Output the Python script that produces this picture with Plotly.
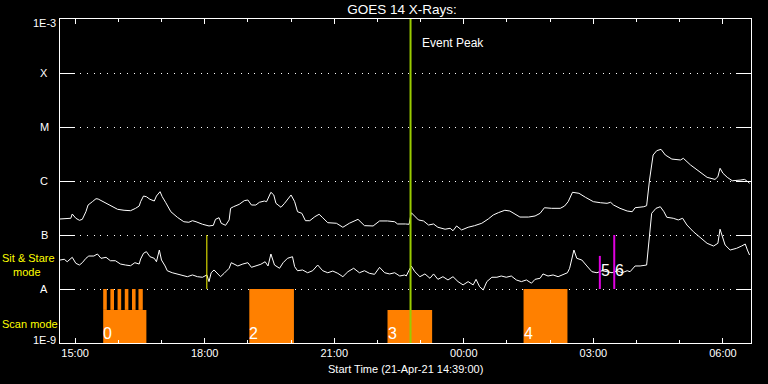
import math
import pandas as pd
import plotly.graph_objects as go

START = pd.Timestamp("2021-04-21 14:39:00")
END = START + pd.Timedelta(hours=16)

# GOES long channel (1-8 A): minutes after start, flux W/m^2
long_min = [0, 10, 15, 17, 22, 27, 31, 36, 39, 45, 50, 53, 61, 70, 80, 89, 98, 105, 110, 112,
            116, 120, 125, 131, 134, 139, 142, 147, 154, 163, 172, 179, 184, 189, 198, 207, 213, 216, 221, 224,
            230, 235, 237, 241, 249, 256, 261, 266, 272, 277, 284, 287, 293, 297, 300, 307, 312, 321, 326, 330,
            336, 341, 347, 354, 360, 365, 372, 384, 393, 402, 414, 423, 435, 444, 455, 465, 469, 480, 485, 488,
            493, 498, 505, 512, 519, 525, 535, 542, 546, 551, 558, 567, 576, 586, 595, 602, 609, 618, 625, 632,
            639, 651, 660, 667, 673, 683, 695, 701, 706, 712, 718, 721, 730, 741, 751, 760, 765, 769, 778, 788,
            795, 799, 811, 815, 819, 824, 829, 835, 841, 850, 862, 866, 876, 887, 899, 910, 914, 917, 921, 927,
            934, 945, 951, 954, 958]
long_flux = [1.98e-7, 1.98e-7, 2.04e-7, 2.45e-7, 2.04e-7, 1.87e-7, 1.95e-7, 2.70e-7, 3.59e-7, 4.14e-7,
             4.70e-7, 4.64e-7, 4.08e-7, 3.55e-7, 2.99e-7, 2.87e-7, 2.82e-7, 3.12e-7, 3.44e-7, 4.14e-7,
             5.27e-7, 5.12e-7, 4.58e-7, 4.26e-7, 5.27e-7, 6.34e-7, 5.12e-7, 3.96e-7, 2.70e-7, 2.13e-7,
             1.76e-7, 1.72e-7, 1.84e-7, 1.76e-7, 1.58e-7, 1.47e-7, 1.51e-7, 1.95e-7, 2.09e-7, 1.65e-7,
             1.51e-7, 1.90e-7, 3.12e-7, 3.34e-7, 3.70e-7, 4.32e-7, 4.45e-7, 3.59e-7, 3.59e-7, 4.03e-7,
             4.26e-7, 4.14e-7, 6.18e-7, 5.51e-7, 3.86e-7, 3.26e-7, 3.86e-7, 5.51e-7, 4.14e-7, 2.70e-7,
             2.52e-7, 1.84e-7, 1.84e-7, 2.18e-7, 2.42e-7, 2.09e-7, 1.69e-7, 1.65e-7, 1.39e-7, 1.65e-7,
             1.95e-7, 1.49e-7, 1.47e-7, 1.82e-7, 1.82e-7, 1.76e-7, 1.60e-7, 1.60e-7, 1.58e-7, 2.59e-7,
             2.18e-7, 1.90e-7, 1.82e-7, 1.53e-7, 1.60e-7, 1.39e-7, 1.28e-7, 1.33e-7, 1.20e-7, 1.47e-7,
             1.24e-7, 1.39e-7, 1.49e-7, 1.65e-7, 1.98e-7, 2.35e-7, 2.59e-7, 2.87e-7, 2.78e-7, 2.45e-7,
             2.15e-7, 2.15e-7, 2.25e-7, 2.52e-7, 3.20e-7, 3.12e-7, 3.12e-7, 3.44e-7, 4.14e-7, 6.18e-7,
             6.07e-7, 5.92e-7, 4.99e-7, 4.14e-7, 3.96e-7, 3.86e-7, 4.03e-7, 3.59e-7, 3.12e-7, 2.78e-7,
             2.70e-7, 3.20e-7, 3.34e-7, 3.49e-7, 1.04e-6, 3.03e-6, 3.64e-6, 3.86e-6, 3.03e-6, 2.55e-6,
             2.45e-6, 2.63e-6, 1.98e-6, 1.55e-6, 1.17e-6, 1.07e-6, 1.20e-6, 1.72e-6, 1.39e-6, 1.17e-6,
             1.01e-6, 1.04e-6, 1.07e-6, 1.01e-6, 9.06e-7]

# GOES short channel (0.5-4 A)
short_min = [0, 6, 10, 17, 22, 27, 31, 36, 40, 47, 52, 57, 64, 70, 77, 84, 91, 98, 104, 110,
             112, 116, 120, 125, 131, 134, 138, 141, 146, 149, 156, 163, 170, 177, 184, 191, 198, 204, 207, 210,
             214, 219, 223, 228, 235, 238, 240, 247, 254, 261, 266, 272, 279, 285, 289, 293, 298, 305, 310, 316,
             323, 326, 330, 337, 344, 351, 358, 365, 372, 379, 386, 393, 400, 408, 416, 423, 430, 437, 444, 451,
             458, 465, 472, 479, 481, 488, 493, 500, 507, 514, 519, 525, 532, 539, 546, 553, 560, 567, 574, 578,
             583, 588, 593, 600, 607, 613, 620, 627, 634, 641, 648, 655, 660, 667, 671, 678, 685, 692, 699, 705,
             708, 712, 714, 718, 725, 732, 739, 746, 753, 760, 767, 774, 781, 788, 792, 799, 806, 815, 818, 822,
             828, 834, 839, 843, 852, 859, 865, 871, 880, 890, 899, 908, 914, 917, 920, 924, 931, 940, 947, 952,
             955, 958]
short_flux = [3.44e-8, 3.55e-8, 3.20e-8, 3.86e-8, 2.99e-8, 2.78e-8, 3.07e-8, 3.70e-8, 4.08e-8, 4.08e-8,
              4.45e-8, 3.70e-8, 3.86e-8, 3.34e-8, 3.34e-8, 2.90e-8, 2.78e-8, 2.70e-8, 3.07e-8, 2.90e-8,
              3.59e-8, 4.58e-8, 4.91e-8, 3.96e-8, 3.70e-8, 3.20e-8, 5.27e-8, 3.44e-8, 2.67e-8, 2.18e-8,
              2.00e-8, 1.90e-8, 1.82e-8, 1.69e-8, 1.82e-8, 1.69e-8, 1.65e-8, 1.82e-8, 1.37e-8, 2.00e-8,
              2.25e-8, 1.95e-8, 1.69e-8, 1.95e-8, 2.42e-8, 3.07e-8, 2.99e-8, 2.67e-8, 2.90e-8, 3.07e-8,
              2.52e-8, 2.67e-8, 2.87e-8, 3.20e-8, 2.67e-8, 4.45e-8, 2.78e-8, 2.42e-8, 3.07e-8, 3.70e-8,
              3.96e-8, 2.59e-8, 2.18e-8, 2.25e-8, 2.00e-8, 2.18e-8, 2.78e-8, 2.18e-8, 2.00e-8, 2.15e-8,
              1.95e-8, 1.69e-8, 2.09e-8, 2.42e-8, 2.00e-8, 2.18e-8, 1.95e-8, 1.87e-8, 2.52e-8, 2.00e-8,
              1.90e-8, 2.00e-8, 1.74e-8, 1.82e-8, 1.74e-8, 2.67e-8, 2.09e-8, 1.69e-8, 1.90e-8, 1.58e-8,
              1.90e-8, 1.51e-8, 1.69e-8, 1.47e-8, 1.69e-8, 1.37e-8, 1.19e-8, 1.37e-8, 1.19e-8, 1.51e-8,
              1.10e-8, 9.6e-9, 1.37e-8, 1.65e-8, 1.65e-8, 1.74e-8, 1.65e-8, 1.74e-8, 1.47e-8, 1.37e-8,
              1.47e-8, 1.28e-8, 1.51e-8, 1.58e-8, 1.90e-8, 1.74e-8, 1.82e-8, 1.69e-8, 1.82e-8, 2.00e-8,
              2.42e-8, 4.26e-8, 5.27e-8, 3.70e-8, 3.44e-8, 2.67e-8, 2.09e-8, 2.00e-8, 2.18e-8, 2.09e-8,
              2.00e-8, 2.18e-8, 2.00e-8, 2.18e-8, 2.09e-8, 2.67e-8, 2.67e-8, 2.78e-8, 7.02e-8, 2.52e-7,
              3.12e-7, 3.34e-7, 2.70e-7, 2.13e-7, 2.04e-7, 1.90e-7, 2.04e-7, 1.53e-7, 1.15e-7, 8.7e-8,
              7.02e-8, 6.25e-8, 7.02e-8, 1.28e-7, 9.3e-8, 6.53e-8, 5.27e-8, 5.67e-8, 6.25e-8, 6.81e-8,
              5.27e-8, 4.26e-8]

assert len(long_min) == len(long_flux)
assert len(short_min) == len(short_flux)

# Observation blocks (orange)
block_labels = ["0", "2", "3", "4"]
block_start = ["2021-04-21 15:39", "2021-04-21 19:02", "2021-04-21 22:14", "2021-04-22 01:23"]
block_end = ["2021-04-21 16:39", "2021-04-21 20:04", "2021-04-21 23:16", "2021-04-22 02:24"]
block_top = [4.1e-9, 1e-8, 4.1e-9, 1e-8]
# short sit&stare teeth within block 0
tooth_start = ["2021-04-21 15:39", "2021-04-21 15:49", "2021-04-21 15:59",
               "2021-04-21 16:09", "2021-04-21 16:19", "2021-04-21 16:28"]
tooth_end = ["2021-04-21 15:44", "2021-04-21 15:54", "2021-04-21 16:04",
             "2021-04-21 16:14", "2021-04-21 16:24", "2021-04-21 16:34"]
tooth_bottom = 4.1e-9
tooth_top = 1e-8
FLOOR = 1e-9

event_peak = "2021-04-21 22:46"
marker_time = "2021-04-21 18:03"
marker_range = [1e-8, 1e-7]
mag_labels = ["5", "6"]
mag_time = ["2021-04-22 03:09", "2021-04-22 03:29"]
mag_top = [4.1e-8, 1e-7]

ylevels = [1e-9, 1e-8, 1e-7, 1e-6, 1e-5, 1e-4, 1e-3]
ylabels = ["1E-9", "A", "B", "C", "M", "X", "1E-3"]

ORANGE = "#ff8000"
FONT = "Liberation Sans"

fig = go.Figure()

def rect(x0, x1, y0, y1):
    fig.add_trace(go.Scatter(x=[x0, x1, x1, x0, x0], y=[y0, y0, y1, y1, y0],
                             mode="lines", fill="toself", fillcolor=ORANGE,
                             line=dict(width=0, color=ORANGE), hoverinfo="skip"))

for s, e, t in zip(block_start, block_end, block_top):
    rect(s, e, FLOOR, t)
for s, e in zip(tooth_start, tooth_end):
    rect(s, e, tooth_bottom, tooth_top)

lt = [START + pd.Timedelta(minutes=m) for m in long_min]
st = [START + pd.Timedelta(minutes=m) for m in short_min]
fig.add_trace(go.Scatter(x=lt, y=long_flux, mode="lines", line=dict(color="white", width=1)))
fig.add_trace(go.Scatter(x=st, y=short_flux, mode="lines", line=dict(color="white", width=1)))

fig.add_trace(go.Scatter(x=[marker_time, marker_time], y=marker_range, mode="lines",
                         line=dict(color="#ffff00", width=1)))
for t, top in zip(mag_time, mag_top):
    fig.add_trace(go.Scatter(x=[t, t], y=[1e-8, top], mode="lines",
                             line=dict(color="#e000e0", width=2)))
fig.add_trace(go.Scatter(x=[event_peak, event_peak], y=[1e-9, 1e-3], mode="lines",
                         line=dict(color="#99cc00", width=2)))

ann = []
for lab, s in zip(block_labels, block_start):
    ann.append(dict(x=s, xref="x", y=10 / 324, yref="paper", text=lab, showarrow=False,
                    xanchor="left", yanchor="middle", xshift=-2,
                    font=dict(size=16, color="white", family=FONT)))
for lab, t in zip(mag_labels, mag_time):
    ann.append(dict(x=t, xref="x", y=73 / 324, yref="paper", text=lab, showarrow=False,
                    xanchor="left", yanchor="middle", xshift=-1,
                    font=dict(size=16, color="white", family=FONT)))
ann.append(dict(x=event_peak, xref="x", y=1 - 24 / 324, yref="paper", text="Event Peak",
                showarrow=False, xanchor="left", yanchor="middle", xshift=9,
                font=dict(size=12, color="white", family=FONT)))
for i, lab in enumerate(ylabels):
    shift = 0
    if i == 0:
        shift = 3.5
    elif i == len(ylabels) - 1:
        shift = -4
    ann.append(dict(x=0, xref="paper", y=i / 6, yref="paper", text=lab, showarrow=False,
                    xanchor="center", yanchor="middle", xshift=-16, yshift=shift,
                    font=dict(size=11, color="white", family=FONT)))
ann.append(dict(x=0, xref="paper", y=(343 - 258) / 324, yref="paper", text="Sit & Stare",
                showarrow=False, xanchor="left", yanchor="middle", xshift=-60,
                font=dict(size=11, color="#ffff00", family=FONT)))
ann.append(dict(x=0, xref="paper", y=(343 - 271.5) / 324, yref="paper", text="mode",
                showarrow=False, xanchor="left", yanchor="middle", xshift=-49,
                font=dict(size=11, color="#ffff00", family=FONT)))
ann.append(dict(x=0, xref="paper", y=(343 - 323.5) / 324, yref="paper", text="Scan mode",
                showarrow=False, xanchor="left", yanchor="middle", xshift=-60,
                font=dict(size=11, color="#ffff00", family=FONT)))
ann.append(dict(x=0.5, xref="paper", y=(343 - 369) / 324, yref="paper",
                text="Start Time (21-Apr-21 14:39:00)", showarrow=False,
                xanchor="center", yanchor="middle",
                font=dict(size=11, color="white", family=FONT)))

fig.update_layout(
    width=768, height=384, paper_bgcolor="black", plot_bgcolor="black",
    margin=dict(l=60, r=17, t=19, b=41), showlegend=False,
    font=dict(family=FONT, color="white", size=11),
    title=dict(text="GOES 14 X-Rays:", x=402 / 768, xref="container", xanchor="center",
               y=1 - 9.5 / 384, yanchor="middle", font=dict(size=13.5, color="white", family=FONT)),
    annotations=ann,
)
fig.update_xaxes(type="date", range=[START, END], showgrid=False, zeroline=False,
                 showline=True, linecolor="white", linewidth=1, mirror="ticks",
                 ticks="inside", ticklen=5, tickcolor="white", tickwidth=1,
                 tick0="2021-04-21 15:00", dtick=3 * 3600000, tickformat="%H:%M",
                 tickfont=dict(size=11, color="white", family=FONT),
                 minor=dict(dtick=3600000, tick0="2021-04-21 15:00", ticklen=3, ticks="inside",
                            tickcolor="white", showgrid=False))
fig.update_yaxes(type="log", range=[-9, -3], zeroline=False,
                 showline=True, linecolor="white", linewidth=1, mirror="ticks",
                 ticks="inside", ticklen=15, tickcolor="white", tickvals=ylevels,
                 showticklabels=False, showgrid=True, gridcolor="white", gridwidth=1,
                 griddash="1px,5.7px")

fig.write_html("out.html")
